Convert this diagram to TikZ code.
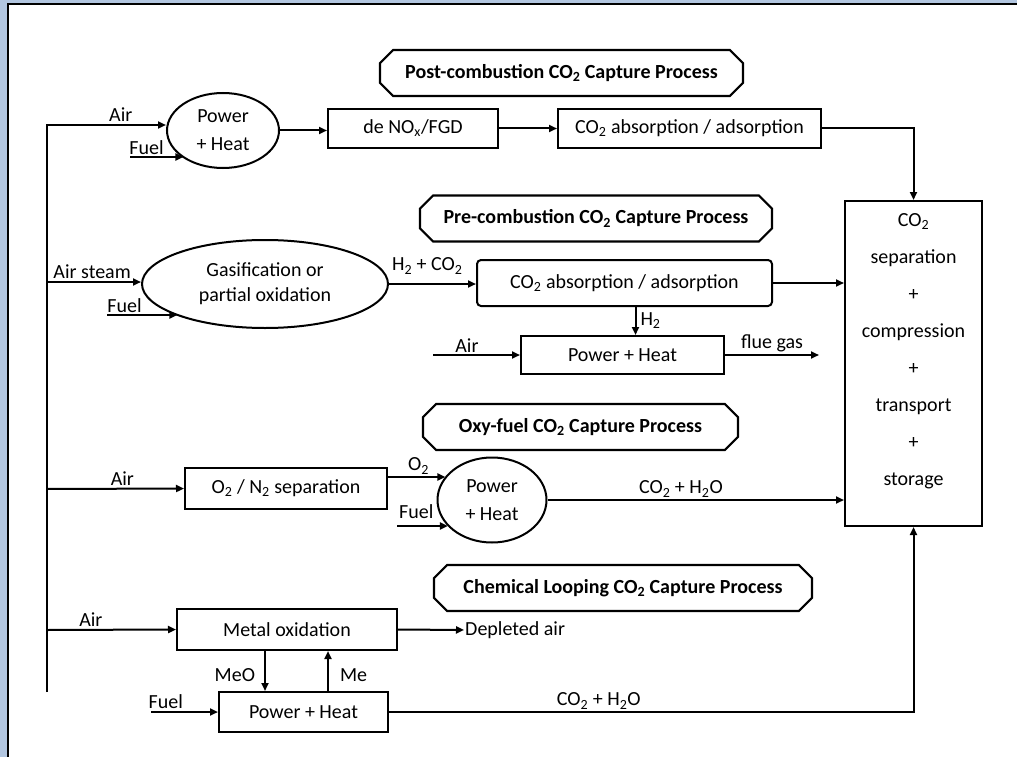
\documentclass[tikz,border=0pt]{standalone}
\usepackage{fontspec}
\setmainfont{Carlito}
\usetikzlibrary{arrows.meta,positioning,shapes.geometric,shapes.misc}
\definecolor{frameblue}{RGB}{178,198,224}
\newcommand{\cotwo}{CO\textsubscript{2}}

\begin{document}
\begin{tikzpicture}[
  x=1pt, y=-1pt, inner sep=2pt,
  font=\fontsize{20}{24}\selectfont,
  box/.style={draw, line width=2pt, align=center},
  oval/.style={draw, line width=2pt, ellipse, align=center, inner sep=0pt, font=\fontsize{20}{28}\selectfont},
  title/.style={draw, line width=2.2pt, chamfered rectangle, chamfered rectangle xsep=10pt, minimum height=46pt, font=\bfseries\fontsize{20}{24}\selectfont},
  arr/.style={-{Triangle[length=8pt,width=7pt]}, line width=2pt}
]
\useasboundingbox (0,0) rectangle (1017,757);
\fill[frameblue] (0,0) rectangle (1017,757);
\fill[white] (8,4) rectangle (1017,757);
\draw[line width=1.5pt] (8,757) -- (8,4) -- (1017,4);

\node[title, minimum width=363pt] (tpost) at (561.5,73) {Post-combustion \cotwo{} Capture Process};
\node[title, minimum width=352pt] (tpre) at (596,218.5) {Pre-combustion \cotwo{} Capture Process};
\node[title, minimum width=315pt] (toxy) at (580.5,427) {Oxy-fuel \cotwo{} Capture Process};
\node[title, minimum width=378pt] (tchem) at (623,588) {Chemical Looping \cotwo{} Capture Process};

\node[oval, minimum width=112pt, minimum height=75pt] (ph1) at (223,130.5) {Power\\+ Heat};
\node[box, minimum width=170pt, minimum height=39pt] (denox) at (413,128.5) {de NO\textsubscript{x}/FGD};
\node[box, minimum width=263pt, minimum height=39pt] (abs1) at (689.5,128.5) {\cotwo{} absorption / adsorption};

\node[box, minimum width=137pt, minimum height=325pt] (store) at (913.5,363.5) {};
\node[align=center, font=\fontsize{20}{37}\selectfont] (storetxt) at (913.5,351.5) {\cotwo\\separation\\+\\compression\\+\\transport\\+\\storage};

\node[oval, minimum width=246pt, minimum height=88pt, font=\fontsize{20}{25}\selectfont] (gas) at (265,284) {Gasification or\\partial oxidation};
\node[box, rounded corners=4pt, minimum width=295pt, minimum height=46pt] (abs2) at (624.5,283) {\cotwo{} absorption / adsorption};
\node[box, minimum width=203pt, minimum height=38pt] (ph2) at (622.5,355) {Power + Heat};
\coordinate (a2) at (433,355);
\coordinate (fg) at (819,355);

\node[box, minimum width=202pt, minimum height=41pt] (sep) at (286,488.5) {O\textsubscript{2} / N\textsubscript{2} separation};
\node[oval, minimum width=109pt, minimum height=85pt] (ph3) at (492,500) {Power\\+ Heat};

\node[box, minimum width=220pt, minimum height=41pt] (mox) at (287,629.5) {Metal oxidation};
\node[anchor=west, inner sep=1pt] (dep) at (464,630) {Depleted air};
\node[box, minimum width=169pt, minimum height=40pt] (ph4) at (303.5,712) {Power + Heat};

\coordinate (t1) at (47,125);
\coordinate (t2) at (47,282);
\coordinate (t3) at (47,489);
\coordinate (t4) at (47,630);
\coordinate (t5) at (47,692);
\coordinate (f1) at (130,157);
\coordinate (f2) at (107,315);
\coordinate (f3) at (397,526);
\coordinate (f4) at (151,712);

\draw[arr] (t5) -- (t1) -- (t1 -| ph1.west) node[above, pos=.62] {Air};
\draw[arr] (f1) -- (f1 -| ph1.215) node[above, pos=.31, inner sep=1pt] {Fuel};
\draw[arr] (ph1.east) -- (ph1.east -| denox.west);
\draw[arr] (denox.east) -- (abs1.west);
\draw[arr] (abs1.east) -| (store.north);

\draw[arr] (t2) -- (t2 -| gas.west) node[above, pos=.48] {Air steam};
\draw[arr] (f2) -- (f2 -| gas.200) node[above, pos=.25, inner sep=1pt] {Fuel};
\draw[arr] (gas.east) -- (gas.east -| abs2.west) node[above=7pt, pos=.44] {H\textsubscript{2} + \cotwo};
\draw[arr] (abs2.east) -- (abs2.east -| store.west);
\draw[arr] ([xshift=11pt]abs2.south) -- ([xshift=11pt]abs2.south |- ph2.north) node[right, midway, inner sep=4pt] {H\textsubscript{2}};
\draw[arr] (a2) -- (ph2.west) node[above, pos=.39] {Air};
\draw[arr] (ph2.east) -- (fg) node[above, midway] {flue gas};

\draw[arr] (t3) -- (sep.west) node[above, pos=.55] {Air};
\draw[arr] ([yshift=11.5pt]sep.east) -- ([yshift=11.5pt]sep.east -| ph3.153) node[above, pos=.53] {O\textsubscript{2}};
\draw[arr] (f3) -- (f3 -| ph3.211) node[above=4pt, pos=.38] {Fuel};
\draw[arr] (ph3.east) -- (ph3.east -| store.west) node[above, pos=.45] {\cotwo{} + H\textsubscript{2}O};

\draw[arr] (t4) -- (mox.west) node[above, pos=.34] {Air};
\draw[arr] (mox.east) -- (dep.west);
\draw[arr] ([xshift=-22pt]mox.south) -- ([xshift=-22pt]mox.south |- ph4.north) node[left=7pt, pos=.6] {MeO};
\draw[arr] ([xshift=41pt]mox.south |- ph4.north) -- ([xshift=41pt]mox.south) node[right=9pt, pos=.4] {Me};
\draw[arr] (f4) -- (ph4.west) node[above, pos=.22] {Fuel};
\draw[arr] (ph4.east) -| (store.south) node[above, pos=.2] {\cotwo{} + H\textsubscript{2}O};
\end{tikzpicture}
\end{document}
